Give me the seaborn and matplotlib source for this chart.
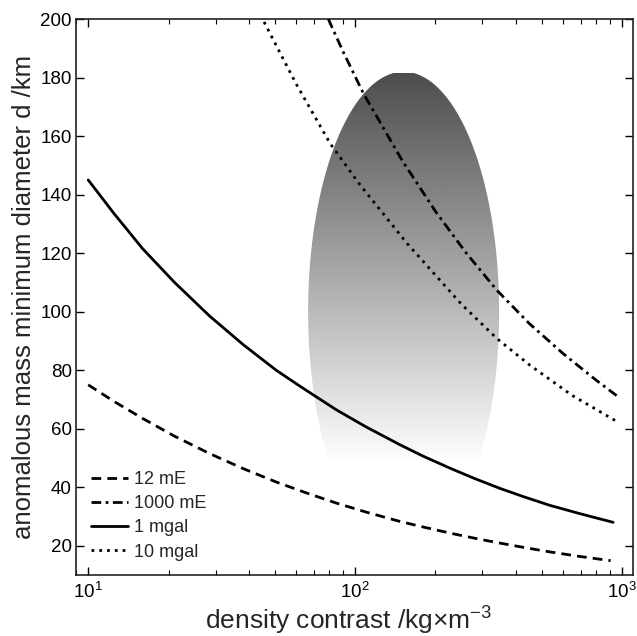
import numpy as np
import matplotlib
matplotlib.use("Agg")
import matplotlib.pyplot as plt
from matplotlib.path import Path
from matplotlib.patches import PathPatch
from matplotlib.ticker import LogLocator, NullFormatter
import seaborn as sns

# values (density contrast kg/m^3 -> min diameter km)
rho_12mE = [10, 12.5, 16, 21, 28.5, 38, 50.6, 65, 84.9, 110, 147.4, 180,
            230, 290, 349, 430, 537, 700, 907]
d_12mE = [75, 69.3, 63.5, 57.5, 51.5, 46.4, 41.8, 38.2, 34.6, 31.5, 28.3, 26.4,
          24.2, 22.3, 20.9, 19.4, 17.9, 16.3, 14.9]

rho_1000mE = [79.4, 90, 107.4, 150, 200, 260, 340, 450, 603, 800, 968]
d_1000mE = [200, 189, 174.6, 151.7, 134.3, 120.2, 107.3, 95.9, 85.6, 76.6, 70.9]

rho_1mgal = [10, 12.5, 16, 21, 28.5, 38, 50.6, 62.2, 84.9, 110, 147.4, 180,
             227, 280, 349, 430, 537, 700, 927]
d_1mgal = [145, 133.5, 121.5, 110.1, 98.5, 88.8, 80, 74.5, 66.5, 60.6, 54.5, 50.6,
           46.5, 43.0, 39.6, 36.7, 33.8, 30.9, 28.0]

rho_10mgal = [45.6, 60, 80.6, 103, 156, 250, 340, 452, 650, 968]
d_10mgal = [199, 178, 157.5, 144, 123.5, 102.6, 90.8, 81.7, 71.4, 62.2]

labels = ["12 mE", "1000 mE", "1 mgal", "10 mgal"]

# shaded target region (ellipse in log-density / diameter space)
ell_log_center = 2.182
ell_log_halfwidth = 0.358
ell_d_center = 100
ell_d_halfheight = 82

sns.set_theme(style="ticks")
plt.rcParams["font.family"] = ["Liberation Sans", "DejaVu Sans"]
plt.rcParams["mathtext.fontset"] = "custom"
plt.rcParams["mathtext.rm"] = "Liberation Sans"
plt.rcParams["mathtext.it"] = "Liberation Sans:italic"
plt.rcParams["mathtext.default"] = "regular"

fig = plt.figure(figsize=(6.37, 6.36), dpi=100)
ax = fig.add_axes([0.1193, 0.0959, 0.8744, 0.8742])
ax.set_xscale("log")
ax.set_xlim(9.0, 1100)
ax.set_ylim(10, 200)

# gradient-filled ellipse
t = np.linspace(0, 2 * np.pi, 300)
ex = 10 ** (ell_log_center + ell_log_halfwidth * np.cos(t))
ey = ell_d_center + ell_d_halfheight * np.sin(t)
clip = PathPatch(Path(np.column_stack([ex, ey])), transform=ax.transData,
                 facecolor="none", edgecolor="none")
ax.add_patch(clip)
top = ell_d_center + ell_d_halfheight
bot = ell_d_center - ell_d_halfheight
yy = np.linspace(top, bot, 400)
shade = np.clip(0.30 + 0.70 * (top - yy) / (top - 48), 0, 1)
img = ax.imshow(shade[:, None], cmap="gray", vmin=0, vmax=1, aspect="auto",
                extent=[ex.min(), ex.max(), bot, top], origin="upper",
                interpolation="bilinear", zorder=1)
img.set_clip_path(clip)

styles = [(0, (3.5, 2.2)), (0, (3.5, 1.6, 1, 1.6)), "-", (0, (1, 1.8))]
series = [(rho_12mE, d_12mE), (rho_1000mE, d_1000mE),
          (rho_1mgal, d_1mgal), (rho_10mgal, d_10mgal)]
for (x, y), ls, lab in zip(series, styles, labels):
    sns.lineplot(x=x, y=y, ax=ax, color="black", lw=2, linestyle=ls,
                 label=lab, zorder=3, sort=False)

ax.set_ylabel("anomalous mass minimum diameter d /km", fontsize=18.5, labelpad=3)
ax.set_xlabel("density contrast /kg\u00d7m$^{-3}$", fontsize=19)
ax.xaxis.label.set_va("baseline")
ax.xaxis.set_label_coords(0.49, -0.0985)
ax.set_yticks(range(20, 201, 20))
ax.xaxis.set_major_locator(LogLocator(base=10))
ax.xaxis.set_minor_locator(LogLocator(base=10, subs=np.arange(2, 10)))
ax.xaxis.set_minor_formatter(NullFormatter())
ax.tick_params(which="both", direction="in", top=True, right=True,
               colors="black", labelsize=13.5)
ax.tick_params(which="major", length=6, width=1)
ax.tick_params(which="minor", length=3.5, width=0.8)
ax.tick_params(axis="x", pad=5)
ax.tick_params(axis="y", pad=3)
for s in ax.spines.values():
    s.set_color("#222222")
    s.set_linewidth(1.2)

ax.legend(loc="lower left", frameon=False, fontsize=13, handlelength=2.0,
          handletextpad=0.35, labelspacing=0.4, borderaxespad=0.3,
          bbox_to_anchor=(0.005, 0.003))

fig.savefig("out.png", dpi=100)
